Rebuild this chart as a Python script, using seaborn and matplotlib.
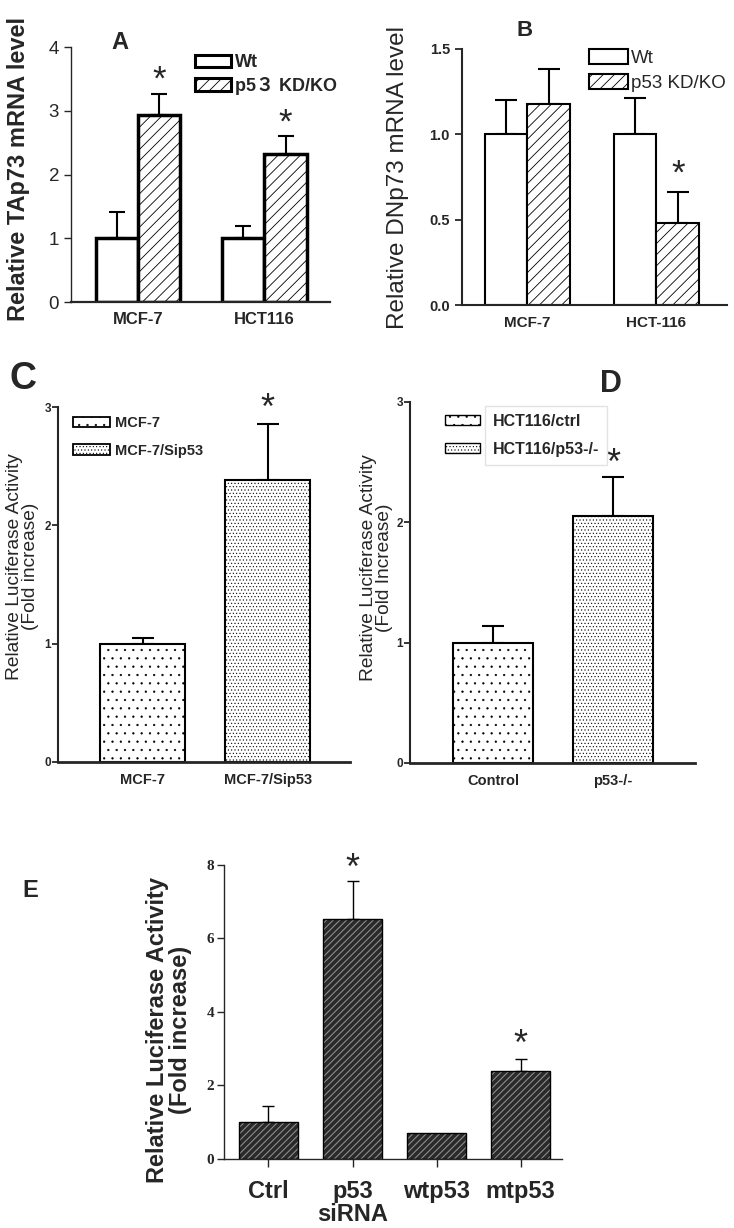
import pandas as pd
import numpy as np
import matplotlib
matplotlib.use('Agg')
import matplotlib.pyplot as plt
import seaborn as sns
from matplotlib.patches import Patch, Rectangle
from matplotlib.font_manager import FontProperties
from matplotlib.transforms import Bbox

sns.set_style('ticks')
plt.rcParams['font.family'] = ['Liberation Sans', 'Noto Sans CJK SC', 'DejaVu Sans']
plt.rcParams['hatch.linewidth'] = 0.6

# panel A - TAp73
a_lines = ['MCF-7', 'HCT116']
a_groups = ['Wt', 'p5３ KD/KO']
a_wt = [1.0, 1.0]
a_wt_err = [0.41, 0.19]
a_ko = [2.93, 2.33]
a_ko_err = [0.33, 0.28]

# panel B - DNp73
b_lines = ['MCF-7', 'HCT-116']
b_groups = ['Wt', 'p53 KD/KO']
b_wt = [1.0, 1.0]
b_wt_err = [0.20, 0.21]
b_ko = [1.18, 0.48]
b_ko_err = [0.20, 0.18]

# panel C
c_cells = ['MCF-7', 'MCF-7/Sip53']
c_vals = [1.0, 2.38]
c_err = [0.05, 0.48]

# panel D
d_cells = ['Control', 'p53-/-']
d_legend = ['HCT116/ctrl', 'HCT116/p53-/-']
d_vals = [1.0, 2.05]
d_err = [0.14, 0.33]

# panel E
e_cells = ['Ctrl', 'p53\nsiRNA', 'wtp53', 'mtp53']
e_vals = [1.0, 6.52, 0.71, 2.40]
e_err = [0.45, 1.05, 0.0, 0.32]
e_star = [False, True, False, True]


def up_errors(ax, bars, errs, lw, cap):
    for p, e in zip(bars, errs):
        if e <= 0:
            continue
        x = p.get_x() + p.get_width() / 2
        y = p.get_height()
        ax.errorbar(x, y, yerr=[[0], [e]], fmt='none', ecolor='black',
                    elinewidth=lw, capsize=cap, capthick=lw, zorder=0.5)


def star(ax, p, e, off, size=26):
    x = p.get_x() + p.get_width() / 2
    ax.annotate('*', xy=(x, p.get_height() + e), xytext=(0, off),
                textcoords='offset points', ha='center', va='center',
                fontsize=size, annotation_clip=False)


def clean(ax):
    sns.despine(ax=ax)
    ax.set_facecolor('none')
    ax.set_xlabel('')


fig = plt.figure(figsize=(7.34, 12.28), dpi=100)

# ---------------- A
ax = fig.add_axes([0.0967, 0.754, 0.353, 0.2077])
dfa = pd.DataFrame({'line': a_lines * 2,
                    'group': [a_groups[0]] * 2 + [a_groups[1]] * 2,
                    'value': a_wt + a_ko})
sns.barplot(data=dfa, x='line', y='value', hue='group', palette=['white', 'white'],
            edgecolor='black', linewidth=2.5, width=0.67, errorbar=None,
            legend=False, ax=ax)
bars = sorted(ax.patches, key=lambda p: p.get_x())
errs = [a_wt_err[0], a_ko_err[0], a_wt_err[1], a_ko_err[1]]
for i, p in enumerate(bars):
    if i % 2 == 1:
        p.set_hatch('///')
up_errors(ax, bars, errs, 1.5, 6)
star(ax, bars[1], errs[1], 10, 25)
star(ax, bars[3], errs[3], 9, 25)
ax.set_xlim(-0.53, 1.52)
ax.set_ylim(0, 4)
ax.set_yticks([0, 1, 2, 3, 4])
ax.tick_params(axis='y', labelsize=13.5, length=5, width=1)
ax.tick_params(axis='x', length=0, pad=7)
for t in ax.get_xticklabels():
    t.set_fontsize(12)
    t.set_fontweight('bold')
clean(ax)
ax.spines['left'].set_linewidth(1.0)
ax.spines['bottom'].set_linewidth(1.6)
ax.set_ylabel('Relative TAp73 mRNA level', fontsize=17, fontweight='bold')
ax.yaxis.set_label_coords(-0.16, 0.52)
hd = [Patch(facecolor='white', edgecolor='black', linewidth=2.2),
      Patch(facecolor='white', edgecolor='black', linewidth=2.2, hatch='///')]
ax.legend(hd, a_groups, loc='upper left', bbox_to_anchor=(0.45, 1.0), frameon=False,
          prop=FontProperties(family=['Liberation Sans', 'Noto Sans CJK SC'], weight='bold', size=13),
          handlelength=2.0, handleheight=0.7, handletextpad=0.2, labelspacing=0.3,
          borderaxespad=0)
fig.text(0.163, 0.965, 'A', fontsize=17, fontweight='bold', ha='center', va='center')

# ---------------- B
ax = fig.add_axes([0.629, 0.7516, 0.362, 0.2085])
dfb = pd.DataFrame({'line': b_lines * 2,
                    'group': [b_groups[0]] * 2 + [b_groups[1]] * 2,
                    'value': b_wt + b_ko})
sns.barplot(data=dfb, x='line', y='value', hue='group', palette=['white', 'white'],
            edgecolor='black', linewidth=1.5, width=0.66, errorbar=None,
            legend=False, ax=ax)
bars = sorted(ax.patches, key=lambda p: p.get_x())
errs = [b_wt_err[0], b_ko_err[0], b_wt_err[1], b_ko_err[1]]
for i, p in enumerate(bars):
    if i % 2 == 1:
        p.set_hatch('///')
up_errors(ax, bars, errs, 1.5, 8)
star(ax, bars[3], errs[3], 13, 25)
ax.set_xlim(-0.51, 1.55)
ax.set_ylim(0, 1.5)
ax.set_yticks([0, 0.5, 1.0, 1.5])
ax.set_yticklabels(['0.0', '0.5', '1.0', '1.5'])
ax.tick_params(axis='y', labelsize=10.5, length=5, width=1.3)
ax.tick_params(axis='x', length=0, pad=8)
for t in ax.get_xticklabels() + ax.get_yticklabels():
    t.set_fontweight('bold')
for t in ax.get_xticklabels():
    t.set_fontsize(11)
clean(ax)
for s in ['left', 'bottom']:
    ax.spines[s].set_linewidth(1.5)
ax.set_ylabel('Relative DNp73 mRNA level', fontsize=17.5)
ax.yaxis.set_label_coords(-0.2, 0.5)
hd = [Patch(facecolor='white', edgecolor='black', linewidth=1.5),
      Patch(facecolor='white', edgecolor='black', linewidth=1.5, hatch='///')]
ax.legend(hd, b_groups, loc='upper left', bbox_to_anchor=(0.45, 1.03), frameon=False,
          fontsize=13.5, handlelength=2.1, handleheight=0.9, handletextpad=0.15,
          labelspacing=0.35, borderaxespad=0)
fig.text(0.715, 0.975, 'B', fontsize=16, fontweight='bold', ha='center', va='center')

# ---------------- C
plt.rcParams['hatch.linewidth'] = 0.4
ax = fig.add_axes([0.079, 0.3795, 0.398, 0.289])
sns.barplot(x=c_cells, y=c_vals, color='white', edgecolor='black', linewidth=1.5,
            width=0.68, errorbar=None, ax=ax)
bars = sorted(ax.patches, key=lambda p: p.get_x())
bars[0].set_hatch('..')
bars[1].set_hatch('.....')
up_errors(ax, bars, c_err, 1.5, 8)
star(ax, bars[1], c_err[1], 10)
ax.set_xlim(-0.676, 1.66)
ax.set_ylim(0, 3)
ax.set_yticks([0, 1, 2, 3])
ax.tick_params(axis='y', labelsize=8.5, length=4, width=1.3, pad=1)
ax.tick_params(axis='x', length=0, pad=8)
for t in ax.get_xticklabels() + ax.get_yticklabels():
    t.set_fontweight('bold')
for t in ax.get_xticklabels():
    t.set_fontsize(10.5)
clean(ax)
ax.spines['left'].set_linewidth(1.5)
ax.spines['bottom'].set_linewidth(2.0)
ax.set_ylabel('Relative Luciferase Activity\n(Fold increase)', fontsize=13.8, linespacing=0.92)
ax.yaxis.set_label_coords(-0.064, 0.55)
hd = [Patch(facecolor='white', edgecolor='black', linewidth=1.3, hatch='..'),
      Patch(facecolor='white', edgecolor='black', linewidth=1.3, hatch='.....')]
ax.legend(hd, c_cells, loc='upper left', bbox_to_anchor=(0.03, 0.99), frameon=False,
          prop={'weight': 'bold', 'size': 10.5}, handlelength=2.6, handleheight=0.7,
          handletextpad=0.3, labelspacing=0.9, borderaxespad=0)
fig.text(0.031, 0.691, 'C', fontsize=27, fontweight='bold', ha='center', va='center')

# ---------------- D
ax = fig.add_axes([0.5586, 0.3787, 0.388, 0.294])
sns.barplot(x=d_cells, y=d_vals, color='white', edgecolor='black', linewidth=1.5,
            width=0.66, errorbar=None, ax=ax)
bars = sorted(ax.patches, key=lambda p: p.get_x())
bars[0].set_hatch('..')
bars[1].set_hatch('.....')
up_errors(ax, bars, d_err, 1.5, 8)
star(ax, bars[1], d_err[1], 9)
ax.set_xlim(-0.69, 1.68)
ax.set_ylim(0, 3)
ax.set_yticks([0, 1, 2, 3])
ax.tick_params(axis='y', labelsize=8.5, length=4, width=1.3, pad=1)
ax.tick_params(axis='x', length=0, pad=8)
for t in ax.get_xticklabels() + ax.get_yticklabels():
    t.set_fontweight('bold')
for t in ax.get_xticklabels():
    t.set_fontsize(10.5)
clean(ax)
ax.spines['left'].set_linewidth(1.5)
ax.spines['bottom'].set_linewidth(2.0)
ax.set_ylabel('Relative Luciferase Activity\n(Fold Increase)', fontsize=13.8, linespacing=0.92)
ax.yaxis.set_label_coords(-0.06, 0.54)
hd = [Patch(facecolor='white', edgecolor='black', linewidth=1.0, hatch='..'),
      Patch(facecolor='white', edgecolor='black', linewidth=1.0, hatch='.....')]
leg = ax.legend(hd, d_legend, loc='upper left', bbox_to_anchor=(0.1, 0.985), frameon=False,
                prop={'weight': 'bold', 'size': 11.5}, handlelength=2.2, handleheight=0.6,
                handletextpad=0.8, labelspacing=0.8, borderaxespad=0)
fig.text(0.832, 0.687, 'D', fontsize=22, fontweight='bold', ha='center', va='center')

# light box only around the legend texts of D
fig.canvas.draw()
r = fig.canvas.get_renderer()
bb = Bbox.union([t.get_window_extent(r) for t in leg.get_texts()])
bb = bb.padded(8)
bb = bb.transformed(fig.transFigure.inverted())
fig.add_artist(Rectangle((bb.x0, bb.y0), bb.width, bb.height, transform=fig.transFigure,
                         fill=False, edgecolor='#e3e3e3', linewidth=1.0))

# ---------------- E
plt.rcParams['hatch.linewidth'] = 0.8
ax = fig.add_axes([0.305, 0.0562, 0.4605, 0.2394])
sns.barplot(x=e_cells, y=e_vals, color='#2a2a2a', edgecolor='#8c8c8c', linewidth=0,
            width=0.70, errorbar=None, ax=ax)
bars = sorted(ax.patches, key=lambda p: p.get_x())
for p in bars:
    p.set_hatch('/////')
    ax.add_patch(Rectangle(p.get_xy(), p.get_width(), p.get_height(), fill=False,
                           edgecolor='black', linewidth=1.0, zorder=3))
up_errors(ax, bars, e_err, 1.0, 4)
e_off = [0, 8, 0, 10]
for p, e, s, o in zip(bars, e_err, e_star, e_off):
    if s:
        star(ax, p, e, o)
ax.set_xlim(-0.53, 3.49)
ax.set_ylim(0, 8)
ax.set_yticks([0, 2, 4, 6, 8])
ax.tick_params(axis='y', length=5, width=1, pad=2)
ax.tick_params(axis='x', length=6, width=1, pad=9, direction='out')
for t in ax.get_yticklabels():
    t.set_fontfamily(['Liberation Serif'])
    t.set_fontweight('bold')
    t.set_fontsize(11)
for t in ax.get_xticklabels():
    t.set_fontweight('bold')
    t.set_fontsize(17)
    t.set_linespacing(1.0)
clean(ax)
for s in ['left', 'bottom']:
    ax.spines[s].set_linewidth(1.0)
ax.set_ylabel('Relative Luciferase Activity\n(Fold increase)', fontsize=17,
              fontweight='bold', linespacing=1.0)
ax.yaxis.set_label_coords(-0.095, 0.44)
fig.text(0.041, 0.275, 'E', fontsize=17, fontweight='bold', ha='center', va='center')

fig.savefig('out.png', dpi=100)
